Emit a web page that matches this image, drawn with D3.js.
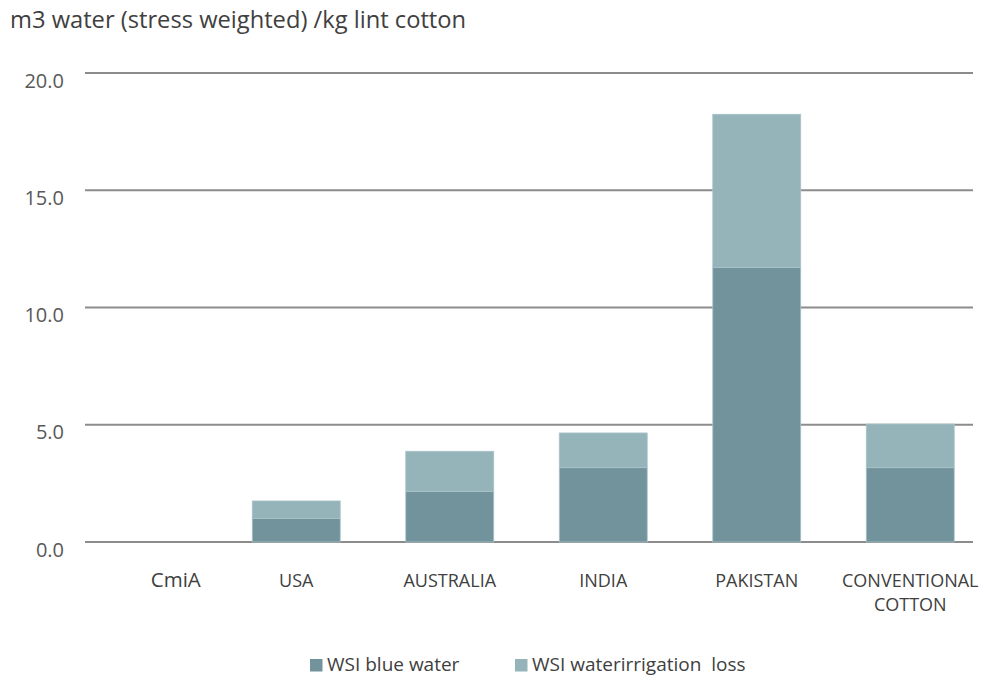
<!DOCTYPE html>
<html>
<head>
<meta charset="utf-8">
<script src="https://cdn.jsdelivr.net/npm/d3@7"></script>
<style>
  body { margin: 0; background: #fff; }
  svg { display: block; font-family: "Open Sans", "Noto Sans", sans-serif; }
</style>
</head>
<body>
<svg id="chart" width="983" height="676"></svg>
<script>
// ==== data ====
var categories = ["CmiA", "USA", "AUSTRALIA", "INDIA", "PAKISTAN", "CONVENTIONAL COTTON"];
var blueWater = [0, 1.0, 2.15, 3.17, 11.71, 3.17];
var irrigationLoss = [0, 0.75, 1.72, 1.48, 6.53, 1.86];
var seriesNames = ["WSI blue water", "WSI waterirrigation  loss"];
var yTicks = [0, 5, 10, 15, 20];
var titleText = "m3 water (stress weighted) /kg lint cotton";

var colors = ["#72939b", "#94b4ba"];

// ==== layout ====
var svg = d3.select("#chart");
var gridLeft = 85, gridRight = 973;

var y = d3.scaleLinear().domain([0, 20]).range([542, 73]);
var x = d3.scaleBand()
    .domain(categories)
    .range([66, 987])
    .paddingInner(0.427)
    .paddingOuter(0.2135);

// title
svg.append("text")
    .attr("x", 10)
    .attr("y", 28)
    .attr("font-size", 23.7)
    .attr("fill", "#404040")
    .text(titleText);

// gridlines
svg.append("g")
    .selectAll("line")
    .data(yTicks)
    .enter().append("line")
    .attr("x1", gridLeft)
    .attr("x2", gridRight)
    .attr("y1", function (d) { return y(d); })
    .attr("y2", function (d) { return y(d); })
    .attr("stroke", "#8c8c8c")
    .attr("stroke-width", 2);

// y axis labels (sit a little below their gridline, like the original)
var yAxis = d3.axisLeft(y)
    .tickValues(yTicks)
    .tickFormat(d3.format(".1f"))
    .tickSize(0)
    .tickPadding(0);
var yg = svg.append("g")
    .attr("transform", "translate(64,7)")
    .call(yAxis);
yg.select(".domain").remove();
yg.selectAll("text")
    .attr("font-family", "\"Open Sans\", sans-serif")
    .attr("font-size", 20)
    .attr("dy", "0.36em")
    .attr("fill", "#595959");

// stacked bars
var rows = categories.map(function (c, i) {
    return { cat: c, blue: blueWater[i], loss: irrigationLoss[i] };
});
var stack = d3.stack().keys(["blue", "loss"]);
var layers = stack(rows);

svg.append("g")
    .selectAll("g")
    .data(layers)
    .enter().append("g")
    .attr("fill", function (d, i) { return colors[i]; })
    .selectAll("rect")
    .data(function (d) { return d; })
    .enter().append("rect")
    .filter(function (d) { return d[1] - d[0] > 0; })
    .attr("x", function (d) { return x(d.data.cat); })
    .attr("width", x.bandwidth())
    .attr("y", function (d) { return y(d[1]); })
    .attr("height", function (d) { return y(d[0]) - y(d[1]); })
    .attr("stroke", "#a9c3c8")
    .attr("stroke-width", 0.8);

// x labels
var xl = svg.append("g")
    .selectAll("text")
    .data(categories)
    .enter().append("text")
    .attr("text-anchor", "middle")
    .attr("fill", "#404040")
    .attr("font-size", function (d) { return d === "CmiA" ? 20.5 : 18; })
    .attr("x", function (d) {
        return x(d) + x.bandwidth() / 2 + (d === "CmiA" ? 33 : 0);
    })
    .attr("y", 587);

xl.each(function (d) {
    var t = d3.select(this);
    var parts = d === "CONVENTIONAL COTTON" ? ["CONVENTIONAL", "COTTON"] : [d];
    parts.forEach(function (p, j) {
        t.append("tspan")
            .attr("x", t.attr("x"))
            .attr("dy", j === 0 ? 0 : 24)
            .text(p);
    });
});

// legend
var legend = svg.append("g")
    .selectAll("g")
    .data(seriesNames)
    .enter().append("g")
    .attr("transform", function (d, i) {
        return "translate(" + (i === 0 ? 310 : 515) + ",659)";
    });
legend.append("rect")
    .attr("width", 12.5)
    .attr("height", 12.5)
    .attr("fill", function (d, i) { return colors[i]; });
legend.append("text")
    .attr("x", 17)
    .attr("y", 12.2)
    .attr("font-size", 19)
    .attr("fill", "#404040")
    .attr("xml:space", "preserve")
    .style("white-space", "pre")
    .text(function (d) { return d; });
</script>
</body>
</html>
